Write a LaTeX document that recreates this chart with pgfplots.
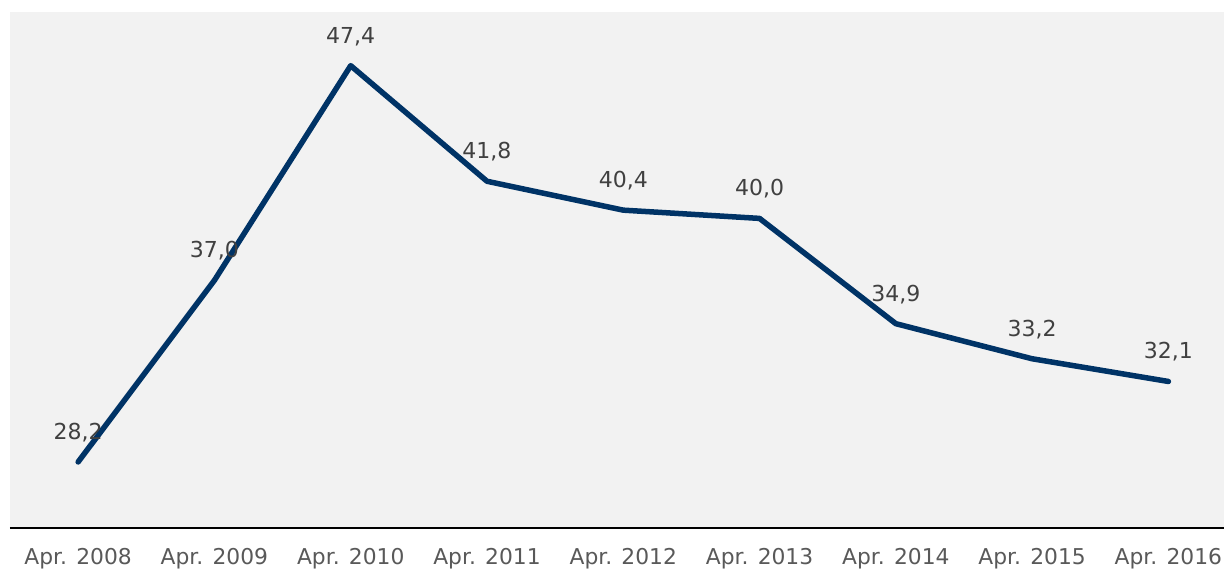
\documentclass[border=0pt]{standalone}
\usepackage{pgfplots}
\pgfplotsset{compat=1.18}
\usepackage{fontspec}
\setmainfont{DejaVu Sans}
\definecolor{linec}{RGB}{0,51,102}
\definecolor{bgc}{RGB}{242,242,242}
\definecolor{labc}{RGB}{64,64,64}
\definecolor{tickc}{RGB}{89,89,89}
\begin{document}
\begin{tikzpicture}
\begin{axis}[
  scale only axis,
  width=1214pt, height=516pt,
  xmin=-0.5, xmax=8.408,
  ymin=25, ymax=50,
  axis background/.style={fill=bgc, draw=none},
  axis x line*=bottom,
  axis y line=none,
  x axis line style={-, black, line width=1.8pt},
  xtick={0,...,8},
  xticklabels={Apr. 2008,Apr. 2009,Apr. 2010,Apr. 2011,Apr. 2012,Apr. 2013,Apr. 2014,Apr. 2015,Apr. 2016},
  major tick length=0pt,
  xticklabel style={anchor=base, yshift=-36pt, text=tickc, font=\fontsize{21.8}{26}\selectfont},
  /pgf/number format/assume math mode=true,
  nodes near coords,
  nodes near coords style={anchor=base, yshift=22.5pt, text=labc, font=\fontsize{22}{26}\selectfont,
    /pgf/number format/.cd, fixed, fixed zerofill, precision=1, use comma},
  clip=false,
]
\addplot[color=linec, line width=5.5pt, line join=round, line cap=round, mark=none] coordinates {
  (0,28.2) (1,37.0) (2,47.4) (3,41.8) (4,40.4) (5,40.0) (6,34.9) (7,33.2) (8,32.1)
};
\coordinate (sw) at (rel axis cs:0,0);
\coordinate (ne) at (rel axis cs:1,1);
\end{axis}
\pgfresetboundingbox
\path[use as bounding box] ([shift={(-10pt,-40pt)}]sw) rectangle ([shift={(0pt,12pt)}]ne);
\end{tikzpicture}
\end{document}
